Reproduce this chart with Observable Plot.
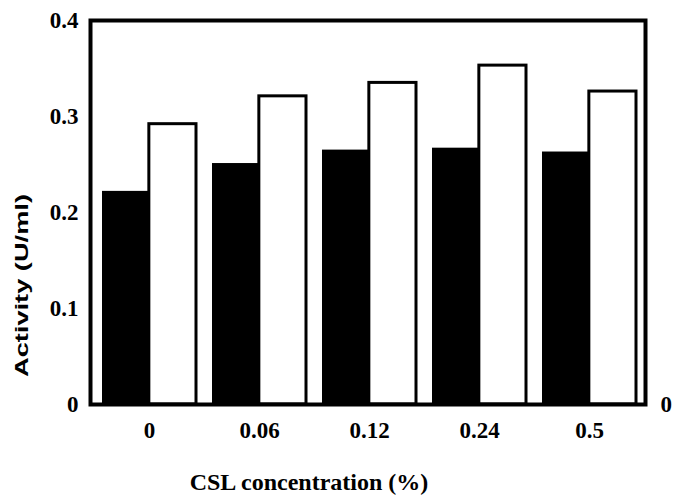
<!DOCTYPE html>
<html>
<head>
<meta charset="utf-8">
<script src="https://cdn.jsdelivr.net/npm/d3@7"></script>
<script src="https://cdn.jsdelivr.net/npm/@observablehq/plot@0.6"></script>
<style>
  html, body { margin: 0; padding: 0; background: #fff; }
  svg text.serif { font-family: "Liberation Serif", serif !important; font-weight: bold; }
</style>
</head>
<body>
<div id="chart"></div>
<script>
const concentrations = ["0", "0.06", "0.12", "0.24", "0.5"];
const seriesBlack = [0.222, 0.251, 0.265, 0.267, 0.263];
const seriesWhite = [0.292, 0.321, 0.335, 0.353, 0.326];
const yTicks = [0, 0.1, 0.2, 0.3, 0.4];
const yTickLabels = ["0", "0.1", "0.2", "0.3", "0.4"];
const xTitle = "CSL concentration (%)";
const yTitle = "Activity (U/ml)";

const blackData = concentrations.map((c, i) => ({conc: c, value: seriesBlack[i]}));
const whiteData = concentrations.map((c, i) => ({conc: c, value: seriesWhite[i]}));

const half = 46.85;
const serif = "Liberation Serif";

const plot = Plot.plot({
  width: 673,
  height: 496,
  marginLeft: 90,
  marginRight: 28,
  marginTop: 20,
  marginBottom: 92,
  style: {fontFamily: serif, fontSize: "23px", fontWeight: "bold", background: "#fff", color: "#000"},
  x: {domain: concentrations, paddingInner: 0.15, paddingOuter: 0.093, align: 0.54, label: null},
  y: {domain: [0, 0.4], label: null},
  marks: [
    Plot.barY(blackData, {x: "conc", y: "value", fill: "black", insetRight: half}),
    Plot.barY(whiteData, {x: "conc", y: "value", fill: "white", stroke: "black", strokeWidth: 3, insetLeft: half}),
    Plot.frame({stroke: "black", strokeWidth: 4}),
    Plot.axisY({ticks: yTicks, tickFormat: (d, i) => yTickLabels[i], tickSize: 0, tickPadding: 12, label: null, fontFamily: serif, fontSize: 23, fontWeight: "bold"}),
    Plot.axisY({anchor: "right", ticks: [0], tickFormat: () => "0", tickSize: 0, tickPadding: 15, label: null, fontFamily: serif, fontSize: 23, fontWeight: "bold"}),
    Plot.axisX({tickSize: 0, tickPadding: 17, label: null, fontFamily: serif, fontSize: 23, fontWeight: "bold"}),
    Plot.text([xTitle], {text: d => d, frameAnchor: "bottom", lineAnchor: "middle", dx: -59, dy: 78, fontFamily: serif, fontSize: 24, fontWeight: "bold"}),
    Plot.text([yTitle], {text: d => d, frameAnchor: "left", textAnchor: "start", lineAnchor: "middle", rotate: -90,
      fontFamily: "Liberation Sans", fontSize: 18, fontWeight: "bold"})
  ]
});

plot.querySelectorAll("text").forEach(t => {
  if (t.textContent === yTitle) {
    const g = t.parentNode;
    if (g && g.removeAttribute) g.removeAttribute("transform");
    t.setAttribute("transform", "translate(22,377) rotate(-90)");
    t.setAttribute("text-anchor", "start");
    t.setAttribute("textLength", "183");
    t.setAttribute("lengthAdjust", "spacingAndGlyphs");
    t.style.fontFamily = "'Liberation Sans', Arial, sans-serif";
  } else {
    t.classList.add("serif");
  }
});

document.getElementById("chart").appendChild(plot);
</script>
</body>
</html>
